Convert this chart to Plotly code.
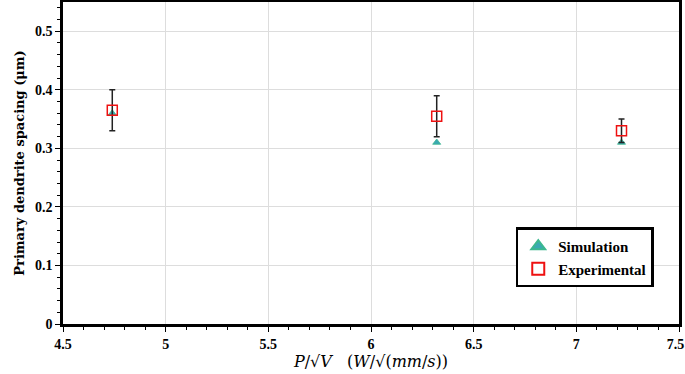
import plotly.graph_objects as go

x_vals = [4.74, 6.32, 7.22]
simulation = [0.36, 0.31, 0.31]
experimental = [0.365, 0.355, 0.33]
exp_err = [0.035, 0.035, 0.02]
x_ticks = [4.5, 5, 5.5, 6, 6.5, 7, 7.5]
x_ticklabels = ["4.5", "5", "5.5", "6", "6.5", "7", "7.5"]
y_ticks = [0, 0.1, 0.2, 0.3, 0.4, 0.5]
y_ticklabels = ["0", "0.1", "0.2", "0.3", "0.4", "0.5"]

font_fam = "Liberation Serif"
title_fam = "DejaVu Serif"

# keep the last label inside the page edge
x_ticktext = list(x_ticklabels)
x_ticktext[-1] = x_ticktext[-1] + "&nbsp;&nbsp;"

fig = go.Figure()
fig.add_trace(go.Scatter(
    x=x_vals, y=simulation, mode="markers", name="Simulation",
    marker=dict(symbol="triangle-up", size=7, color="#3aa9b3",
                line=dict(color="#3cb88f", width=0.8)),
))
fig.add_trace(go.Scatter(
    x=x_vals, y=experimental, mode="markers", name="Experimental",
    marker=dict(symbol="square-open", size=10, color="#ee1111",
                line=dict(width=1.5)),
    error_y=dict(type="data", array=exp_err, visible=True,
                 color="#222222", thickness=1.5, width=3),
))

fig.update_layout(
    width=685, height=374,
    margin=dict(l=63, r=6, t=2, b=50, autoexpand=False),
    paper_bgcolor="white", plot_bgcolor="white",
    font=dict(family=font_fam, color="black"),
    showlegend=True,
    legend=dict(
        x=0.735, y=0.3, xanchor="left", yanchor="top",
        bgcolor="white", bordercolor="black", borderwidth=2.5,
        font=dict(family=font_fam, size=15, color="black", weight="bold"),
        itemsizing="constant", tracegroupgap=14,
        itemwidth=30,
    ),
    xaxis=dict(
        range=[4.5, 7.5], tickvals=x_ticks, ticktext=x_ticktext,
        ticklabeloverflow="allow",
        showgrid=True, gridcolor="#dddddd", gridwidth=1,
        showline=True, linecolor="black", linewidth=2.5, mirror=True,
        ticks="outside", ticklen=5, tickcolor="black", tickwidth=1,
        minor=dict(dtick=0.1, ticks="outside", ticklen=3, tickcolor="black", showgrid=False),
        tickfont=dict(family=font_fam, size=14, weight="bold"),
        zeroline=False, automargin=False,
        title=dict(text="<i>P</i>/√<i>V</i>   (<i>W</i>/√(<i>mm</i>/<i>s</i>))",
                   font=dict(family=title_fam, size=16), standoff=5),
    ),
    yaxis=dict(
        range=[0, 0.55], tickvals=y_ticks, ticktext=y_ticklabels,
        showgrid=True, gridcolor="#dddddd", gridwidth=1,
        showline=True, linecolor="black", linewidth=2.5, mirror=True,
        ticks="outside", ticklen=5, tickcolor="black", tickwidth=1,
        minor=dict(dtick=0.02, ticks="outside", ticklen=3, tickcolor="black", showgrid=False),
        tickfont=dict(family=font_fam, size=14, weight="bold"),
        zeroline=False, automargin=False,
        title=dict(text="Primary dendrite spacing (μm)",
                   font=dict(family=title_fam, size=13, weight="bold"), standoff=8),
    ),
)

fig.write_html("out.html", config={"displayModeBar": False},
               post_script="document.body.style.margin='0';document.body.style.padding='0';")
